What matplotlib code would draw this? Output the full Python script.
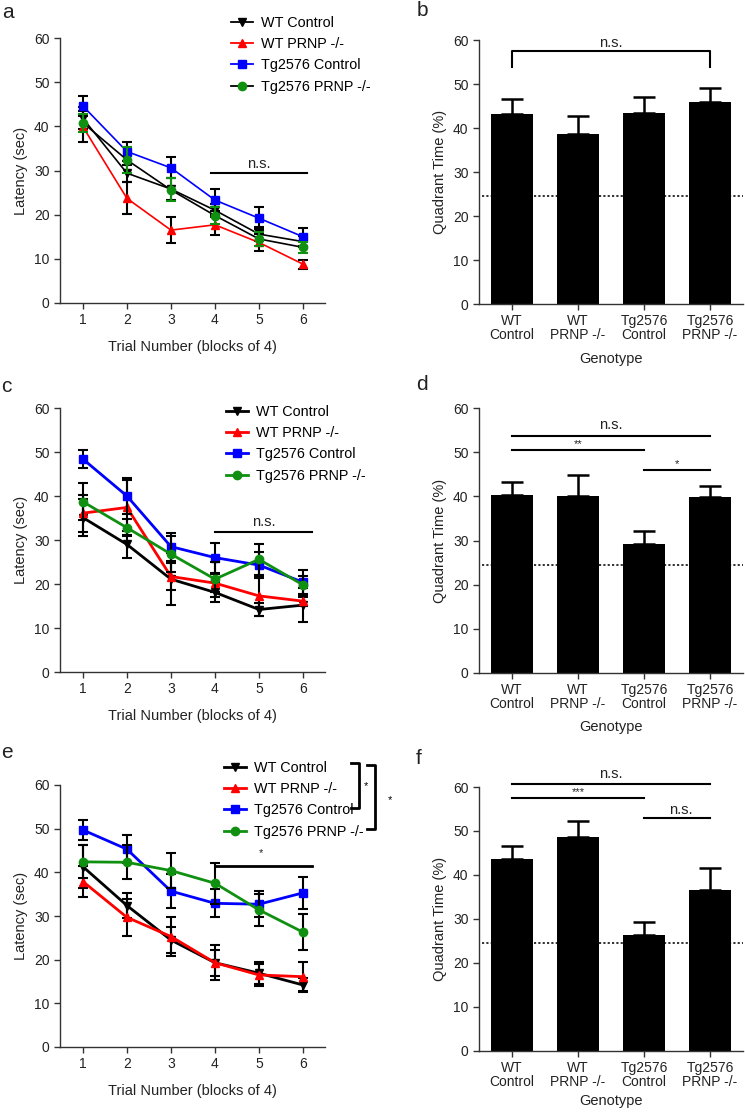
import matplotlib
matplotlib.use("Agg")
import matplotlib.pyplot as plt
from matplotlib.lines import Line2D

plt.rcParams['font.family'] = ['Liberation Sans', 'DejaVu Sans']

# ---- data ----
trials = [1, 2, 3, 4, 5, 6]
groups = ['WT Control', 'WT PRNP -/-', 'Tg2576 Control', 'Tg2576 PRNP -/-']

# panel a
a_wt_ctrl = [41.8, 29.4, 25.8, 21.0, 15.6, 13.9]
a_wt_ctrl_err = [2.5, 1.9, 2.5, 1.5, 1.5, 1.2]
a_wt_prnp = [39.9, 23.7, 16.5, 17.7, 13.7, 8.8]
a_wt_prnp_err = [3.5, 3.6, 2.9, 2.3, 1.9, 1.0]
a_tg_ctrl = [44.6, 34.3, 30.6, 23.3, 19.2, 15.0]
a_tg_ctrl_err = [2.3, 2.2, 2.4, 2.4, 2.5, 2.0]
a_tg_prnp = [40.8, 32.4, 25.6, 19.8, 14.5, 12.6]
a_tg_prnp_err = [2.0, 3.0, 2.6, 2.0, 1.5, 1.2]

# panel c
c_wt_ctrl = [35.1, 29.0, 21.1, 18.1, 14.2, 15.2]
c_wt_ctrl_err = [4.2, 3.0, 5.9, 2.3, 1.5, 3.9]
c_wt_prnp = [36.1, 37.4, 21.7, 20.2, 17.3, 16.1]
c_wt_prnp_err = [4.2, 6.3, 3.0, 2.0, 4.5, 1.0]
c_tg_ctrl = [48.4, 40.0, 28.5, 26.0, 24.3, 20.4]
c_tg_ctrl_err = [2.0, 4.2, 3.2, 3.4, 3.0, 2.8]
c_tg_prnp = [38.7, 32.8, 26.8, 21.1, 25.6, 19.8]
c_tg_prnp_err = [4.2, 2.0, 4.0, 4.0, 3.5, 2.0]

# panel e
e_wt_ctrl = [41.3, 32.4, 24.5, 19.3, 16.9, 14.2]
e_wt_ctrl_err = [5.0, 2.8, 3.0, 4.0, 2.5, 1.5]
e_wt_prnp = [37.9, 29.7, 25.3, 19.3, 16.5, 16.1]
e_wt_prnp_err = [3.6, 4.3, 4.4, 3.0, 2.5, 3.3]
e_tg_ctrl = [49.7, 45.3, 35.7, 32.9, 32.7, 35.3]
e_tg_ctrl_err = [2.3, 3.2, 3.9, 3.2, 3.0, 3.6]
e_tg_prnp = [42.4, 42.3, 40.4, 37.5, 31.4, 26.3]
e_tg_prnp_err = [3.8, 3.9, 4.0, 4.7, 3.7, 4.1]

# bar panels
genotypes = ['WT\nControl', 'WT\nPRNP -/-', 'Tg2576\nControl', 'Tg2576\nPRNP -/-']
b_mean = [43.1, 38.7, 43.5, 45.9]
b_sem = [3.5, 4.0, 3.5, 3.3]
d_mean = [40.4, 40.0, 29.3, 39.85]
d_sem = [2.9, 4.75, 2.85, 2.45]
f_mean = [43.6, 48.6, 26.3, 36.5]
f_sem = [3.0, 3.7, 3.05, 5.0]
chance = 24.5

colors = ['black', '#ff0000', '#0000ff', '#109010']
markers = ['v', '^', 's', 'o']
axcol = '#333333'

W, H = 745, 1112
fig = plt.figure(figsize=(W / 100, H / 100), dpi=100)


def ax_px(left, right, top, bottom):
    return fig.add_axes([left / W, 1 - bottom / H, (right - left) / W, (bottom - top) / H])


def style(ax):
    for s in ['top', 'right']:
        ax.spines[s].set_visible(False)
    for s in ['left', 'bottom']:
        ax.spines[s].set_color(axcol)
        ax.spines[s].set_linewidth(1.0)
    ax.tick_params(colors=axcol, labelcolor='#222222', labelsize=10, length=4, width=1.0)
    ax.set_ylim(0, 60)
    ax.set_yticks([0, 10, 20, 30, 40, 50, 60])


def line_panel(ax, series, errs, lw, line_colors, err_colors):
    for i in range(4):
        ax.errorbar(trials, series[i], yerr=errs[i], color=line_colors[i], ecolor=err_colors[i],
                    marker=markers[i], markersize=6, markerfacecolor=colors[i],
                    markeredgecolor=colors[i], linewidth=lw, elinewidth=1.5,
                    capsize=3.5, capthick=1.5, zorder=3 + i, clip_on=False)
    style(ax)
    ax.set_xlim(0.48, 6.5)
    ax.set_xticks(trials)
    ax.set_xlabel('Trial Number (blocks of 4)', fontsize=10.5, color='#222222', labelpad=9)
    ax.set_ylabel('Latency (sec)', fontsize=10.5, color='#222222', labelpad=4)


def add_legend(ax, x, y, line_colors, lw):
    handles = [Line2D([0], [0], color=line_colors[i], marker=markers[i], markersize=6,
                      markerfacecolor=colors[i], markeredgecolor=colors[i], linewidth=lw)
               for i in range(4)]
    ax.legend(handles, groups, loc='upper left', bbox_to_anchor=(x / W, 1 - y / H),
              bbox_transform=fig.transFigure, frameon=False, fontsize=10.4,
              handlelength=1.5, handletextpad=0.6, labelspacing=0.5, borderpad=0,
              borderaxespad=0)


def bar_panel(ax, mean, sem, pad):
    xs = list(range(len(genotypes)))
    ax.bar(xs, mean, width=0.65, color='black', zorder=2)
    ax.errorbar(xs, mean, yerr=[[0] * 4, sem], fmt='none', ecolor='black',
                elinewidth=1.8, capsize=8, capthick=1.8, zorder=3)
    ax.axhline(chance, color='#222222', linestyle=(0, (1.2, 1.2)), linewidth=1.3,
               xmin=0.01, xmax=1.0, zorder=1, clip_on=False)
    style(ax)
    ax.set_xlim(-0.5, 3.5)
    ax.set_xticks(xs)
    ax.set_xticklabels(genotypes, fontsize=10, linespacing=1.0)
    ax.set_xlabel('Genotype', fontsize=10.5, color='#222222', labelpad=pad)
    ax.set_ylabel('Quadrant Time (%)', fontsize=10.5, color='#222222', labelpad=4)


def hbar(ax, x0, x1, y, text, ty, tx=None, fs=10.5, lw=1.5):
    ax.plot([x0, x1], [y, y], color='black', linewidth=lw, clip_on=False)
    if tx is None:
        tx = (x0 + x1) / 2
    ax.text(tx, ty, text, ha='center', va='center', fontsize=fs, color='#222222')


# ---- a ----
ax_a = ax_px(60, 325, 38, 303)
line_panel(ax_a, [a_wt_ctrl, a_wt_prnp, a_tg_ctrl, a_tg_prnp],
           [a_wt_ctrl_err, a_wt_prnp_err, a_tg_ctrl_err, a_tg_prnp_err], 1.2,
           ['black', '#ff0000', '#0000ff', 'black'], ['black', 'black', 'black', '#109010'])
add_legend(ax_a, 231, 16, ['black', '#ff0000', '#0000ff', 'black'], 1.3)
hbar(ax_a, 3.9, 6.1, 29.5, 'n.s.', 31.4, tx=5.0)

# ---- c ----
ax_c = ax_px(60, 325, 408, 672)
line_panel(ax_c, [c_wt_ctrl, c_wt_prnp, c_tg_ctrl, c_tg_prnp],
           [c_wt_ctrl_err, c_wt_prnp_err, c_tg_ctrl_err, c_tg_prnp_err], 2.0,
           colors, ['black'] * 4)
add_legend(ax_c, 226, 405, colors, 2.0)
hbar(ax_c, 4.0, 6.2, 31.9, 'n.s.', 34.2, tx=5.1)

# ---- e ----
ax_e = ax_px(60, 325, 785, 1047)
line_panel(ax_e, [e_wt_ctrl, e_wt_prnp, e_tg_ctrl, e_tg_prnp],
           [e_wt_ctrl_err, e_wt_prnp_err, e_tg_ctrl_err, e_tg_prnp_err], 2.0,
           colors, ['black'] * 4)
add_legend(ax_e, 224, 761, colors, 2.0)
hbar(ax_e, 4.0, 6.2, 41.4, '*', 44.5, tx=5.05, fs=8, lw=2.0)
# brackets next to the legend
fig.add_artist(Line2D([351 / W, 359 / W, 359 / W, 351 / W],
                      [1 - 763 / H, 1 - 763 / H, 1 - 808 / H, 1 - 808 / H],
                      color='black', linewidth=2.0))
fig.text(366 / W, 1 - 786 / H, '*', fontsize=8, ha='center', va='center')
fig.add_artist(Line2D([367 / W, 375 / W, 375 / W, 367 / W],
                      [1 - 765 / H, 1 - 765 / H, 1 - 829 / H, 1 - 829 / H],
                      color='black', linewidth=2.0))
fig.text(390 / W, 1 - 800 / H, '*', fontsize=8, ha='center', va='center')

# ---- b ----
ax_b = ax_px(479, 743, 40, 304)
bar_panel(ax_b, b_mean, b_sem, 7)
ax_b.plot([0, 0, 3, 3], [53.9, 57.4, 57.4, 53.9], color='black', linewidth=1.5, clip_on=False)
ax_b.text(1.5, 59.4, 'n.s.', ha='center', va='center', fontsize=10.5, color='#222222')

# ---- d ----
ax_d = ax_px(479, 743, 408, 673)
bar_panel(ax_d, d_mean, d_sem, 6)
hbar(ax_d, 0, 3, 53.7, 'n.s.', 56.1)
hbar(ax_d, 0, 2, 50.6, '**', 51.9, fs=8)
hbar(ax_d, 2, 3, 46.0, '*', 47.2, fs=8)

# ---- f ----
ax_f = ax_px(479, 743, 787, 1051)
bar_panel(ax_f, f_mean, f_sem, 3)
hbar(ax_f, 0, 3, 60.7, 'n.s.', 63.0)
hbar(ax_f, 0, 2, 57.5, '***', 58.8, fs=8)
hbar(ax_f, 2, 3, 52.9, 'n.s.', 54.8, tx=2.55)

# panel letters
for lab, x, y in [('a', 8, 12), ('b', 422, 10), ('c', 6, 386), ('d', 422, 384),
                  ('e', 7, 753), ('f', 419, 758)]:
    fig.text(x / W, 1 - y / H, lab, fontsize=15, ha='center', va='center', color='#222222')

fig.savefig('out.png', dpi=100)
